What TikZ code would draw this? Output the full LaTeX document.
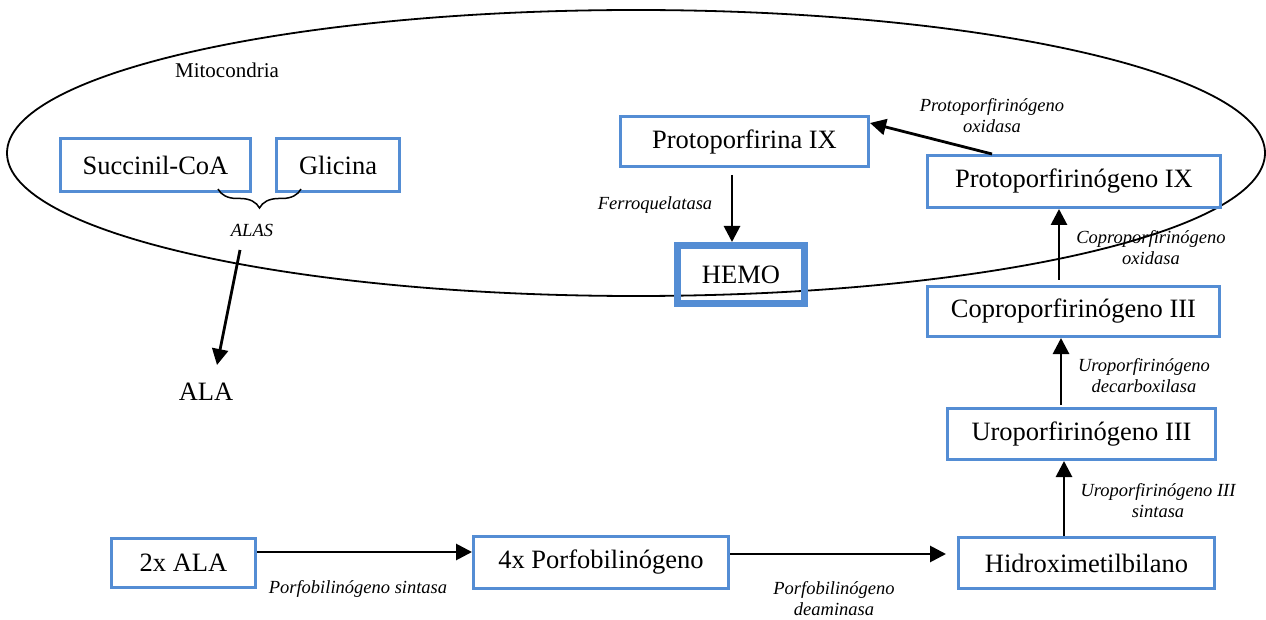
\documentclass[tikz,border=0pt]{standalone}
\usepackage{fontspec}
\setmainfont{Liberation Serif}
\usetikzlibrary{arrows.meta,decorations.pathreplacing,calc}
\definecolor{boxblue}{RGB}{84,141,212}
\begin{document}
\begin{tikzpicture}[x=1pt,y=-1pt,
  bigtext/.style={font=\fontsize{26.5pt}{30pt}\selectfont},
  enz/.style={font=\fontsize{18.5pt}{21pt}\selectfont\itshape, align=center, inner sep=0pt},
  mbox/.style={draw=boxblue, line width=3pt, bigtext, inner sep=0pt, minimum width=#1},
  conn/.style={draw=black, line width=2.8pt, -{Triangle[length=16pt,width=16pt]}}
]
\useasboundingbox (0,0) rectangle (1266,620);
\fill[white] (0,0) rectangle (1266,620);

% mitochondria
\draw[line width=1.8pt] (636,153) ellipse [x radius=629pt, y radius=143pt];
\node[font=\fontsize{21pt}{24pt}\selectfont, inner sep=0pt] (mito) at (227,70) {Mitocondria};

% boxes
\node[mbox=190pt, minimum height=53pt] (suc) at (155.5,165) {Succinil-CoA};
\node[mbox=123pt, minimum height=53pt] (gli) at (338,165) {Glicina};
\node[mbox=248pt, minimum height=50pt] (protoIX) at (744.5,141.5) {Protoporfirina IX};
\node[draw=boxblue, line width=7pt, bigtext, inner sep=0pt, minimum width=127pt, minimum height=58pt] (hemo) at (741,274.5) {HEMO};
\node[mbox=293pt, minimum height=52pt] (protogen) at (1074,181.5) {Protoporfirinógeno IX};
\node[mbox=292pt, minimum height=50pt] (copro) at (1073.5,311.5) {Coproporfirinógeno III};
\node[mbox=268pt, minimum height=51pt] (uro) at (1081.5,434) {Uroporfirinógeno III};
\node[mbox=256pt, minimum height=51pt] (hidroxi) at (1086.5,563) {Hidroximetilbilano};
\node[mbox=255pt, minimum height=52pt] (porfo) at (601,562.5) {4x Porfobilinógeno};
\node[mbox=144pt, minimum height=49pt] (ala2) at (183.5,563) {2x ALA};

% free text
\node[bigtext, inner sep=0pt] (ala) at (206,392) {ALA};
\node[enz] (alas) at (252,230) {ALAS};

% brace
\draw[line width=1.5pt, decorate, decoration={brace, amplitude=19pt, mirror}] (218,189) -- (301,189);

% enzyme labels
\node[enz] (ferro) at (655,205) {Ferroquelatasa};
\node[enz] (ppox) at (992,116) {Protoporfirinógeno\\oxidasa};
\node[enz] (cpox) at (1151,248) {Coproporfirinógeno\\oxidasa};
\node[enz] (urod) at (1144,376) {Uroporfirinógeno\\decarboxilasa};
\node[enz] (uros) at (1158,501) {Uroporfirinógeno III\\sintasa};
\node[enz] (pbgs) at (358,589) {Porfobilinógeno sintasa};
\node[enz] (pbgd) at (834,599) {Porfobilinógeno\\deaminasa};

% connectors
\coordinate (alasStart) at (240,250);
\coordinate (alaEnd) at (217,365);
\draw[conn] (alasStart) -- (alaEnd);

\draw[conn] ([xshift=-12.5pt,yshift=-7pt]protoIX.south) -- ([xshift=-9pt]hemo.north);
\draw[conn] ([xshift=-82pt]protogen.north) -- ([yshift=18.5pt]protoIX.east);
\draw[conn] ([xshift=-14.5pt,yshift=5pt]copro.north) -- ([xshift=-15pt]protogen.south);
\draw[conn] ([xshift=-20.5pt,yshift=2pt]uro.north) -- ([xshift=-12.5pt]copro.south);
\draw[conn] ([xshift=-22.5pt]hidroxi.north) -- ([xshift=-17.5pt]uro.south);
\draw[conn] ([yshift=11pt]ala2.east) -- ([yshift=10.5pt]porfo.west);
\draw[conn] ([yshift=8.5pt]porfo.east) -- ([xshift=-11pt,yshift=9pt]hidroxi.west);
\end{tikzpicture}
\end{document}
